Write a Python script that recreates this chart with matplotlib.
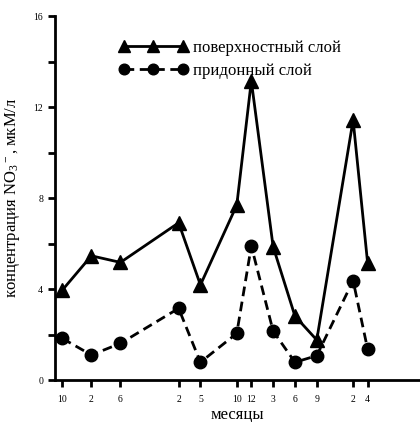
import matplotlib.pyplot as plt

plt.rcParams['font.family'] = 'Liberation Serif'
plt.rcParams['mathtext.fontset'] = 'custom'
plt.rcParams['mathtext.rm'] = 'Liberation Serif'
plt.rcParams['mathtext.it'] = 'Liberation Serif'

# month index counted from the first sample (October)
months = [0, 4, 8, 16, 19, 24, 26, 29, 32, 35, 40, 42]
month_labels = ['10', '2', '6', '2', '5', '10', '12', '3', '6', '9', '2', '4']
surface = [3.95, 5.46, 5.17, 6.91, 4.18, 7.69, 13.15, 5.86, 2.81, 1.76, 11.43, 5.13]
bottom = [1.83, 1.10, 1.61, 3.15, 0.78, 2.05, 5.89, 2.15, 0.78, 1.07, 4.37, 1.35]

fig = plt.figure(figsize=(4.2, 4.22), dpi=100)
ax = fig.add_axes([0.131, 0.0995, 0.869, 0.8625])

ax.plot(months, surface, color='black', lw=2, marker='^', ms=9.5,
        label='поверхностный слой', clip_on=False)
ax.plot(months, bottom, color='black', lw=2, ls=(0, (3.5, 2)), marker='o', ms=9,
        label='придонный слой', clip_on=False)

ax.set_xlim(-1, 49.2)
ax.set_ylim(0, 16)
ax.set_xticks(months)
ax.set_xticklabels(month_labels)
ax.set_yticks([0, 4, 8, 12, 16])
ax.set_yticks([2, 6, 10, 14], minor=True)

for s in ['top', 'right']:
    ax.spines[s].set_visible(False)
for s in ['left', 'bottom']:
    ax.spines[s].set_linewidth(2)

ax.tick_params(axis='both', which='both', direction='out', width=2, labelsize=7)
ax.tick_params(axis='both', which='major', length=5)
ax.tick_params(axis='y', which='minor', length=5)
ax.tick_params(axis='x', pad=6)

ax.set_xlabel('месяцы', fontsize=12, labelpad=2)
ax.set_ylabel('концентрация NO$_3$$^-$, мкМ/л', fontsize=12, labelpad=8)

ax.legend(loc='upper left', bbox_to_anchor=(0.135, 0.975), frameon=False,
          numpoints=3, handlelength=4.1, fontsize=12, labelspacing=0.42,
          handletextpad=0.35, markerscale=0.85)

fig.savefig('out.png', dpi=100)
